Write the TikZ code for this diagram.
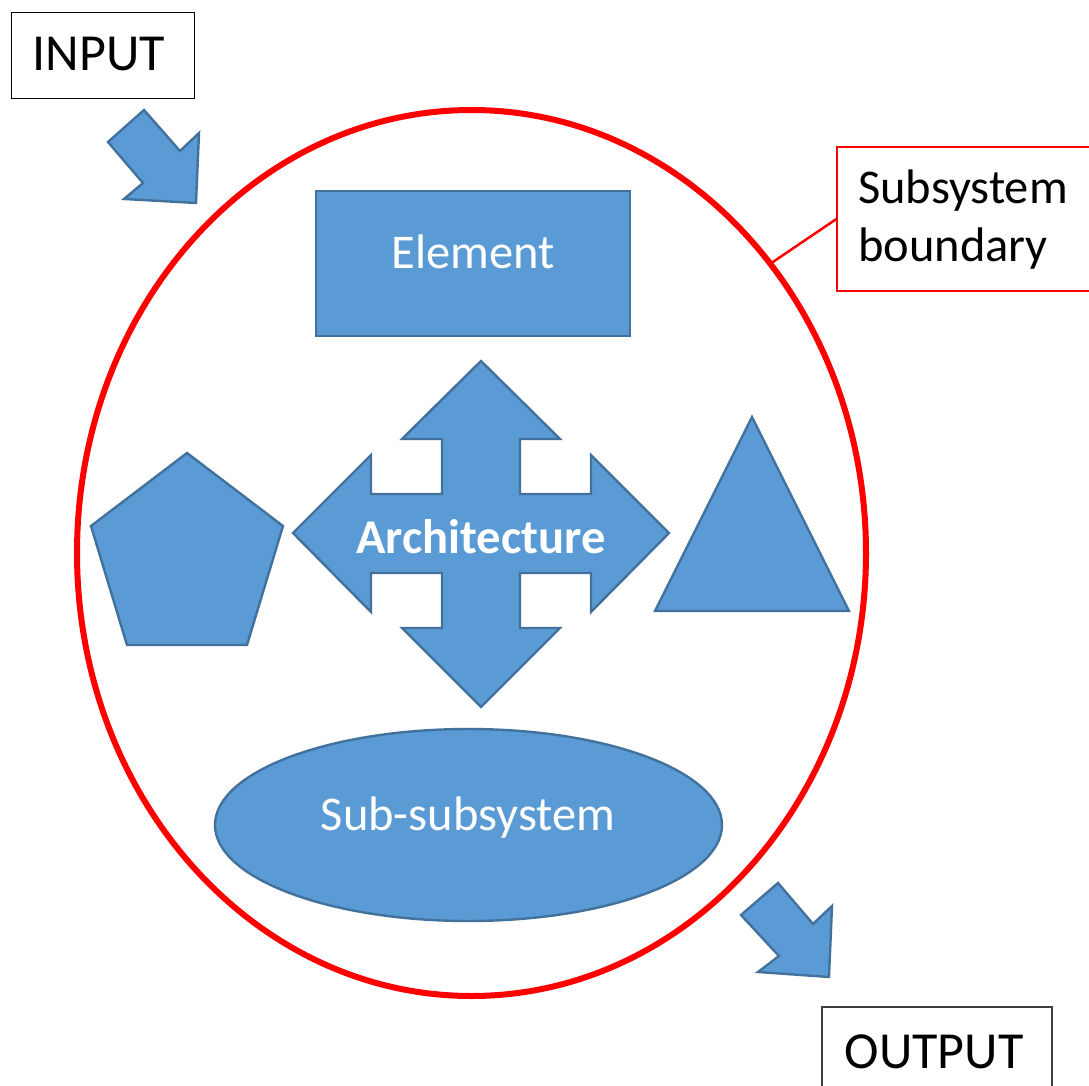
\documentclass[tikz,border=0pt]{standalone}
\usepackage{fontspec}
\setmainfont{Carlito}
\usetikzlibrary{shapes.geometric}
\definecolor{fillblue}{HTML}{5B9BD5}
\definecolor{edgeblue}{HTML}{41719C}
\begin{document}
\begin{tikzpicture}[x=1pt,y=-1pt,
  shapestyle/.style={fill=fillblue, draw=edgeblue, line width=2.4pt, line join=miter},
  lbl/.style={font=\fontsize{48.5}{58}\selectfont, inner sep=0pt, anchor=base},
  biglbl/.style={font=\fontsize{52}{62}\selectfont, inner sep=0pt, anchor=base},
  plainbox/.style={draw=black, line width=1pt, inner sep=0pt, fill=white},
  redline/.style={draw=red, line width=6pt}]
\useasboundingbox (0,0) rectangle (1089,1086);
\begin{scope}
\clip (0,0) rectangle (1089,1086);
% boundary ellipse
\node[redline, ellipse, minimum width=789pt, minimum height=886pt, inner sep=0pt] (boundary) at (471.5,553) {};
% callout
\node[draw=red, line width=1.2pt, minimum width=263pt, minimum height=144pt, inner sep=0pt] (callout) at (968.5,219) {};
\draw[red, line width=2.5pt] (callout.west) -- (boundary.44);
\node[lbl, anchor=base west] (subsys) at (858,204) {Subsystem};
\node[lbl, anchor=base west] (bound) at (858,261) {boundary};
% input / output boxes
\node[plainbox, minimum width=183pt, minimum height=86pt] (inbox) at (102.5,56) {};
\node[biglbl] (intext) at (99,71) {INPUT};
\node[plainbox, draw=black!75, line width=1.3pt, minimum width=230pt, minimum height=93pt] (outbox) at (937,1053.5) {};
\node[biglbl] (outtext) at (934,1068) {OUTPUT};
% input arrow
\draw[shapestyle] (108,142) -- (144,110) -- (180,151) -- (199,133) -- (196,203) -- (124,199) -- (143,183) -- cycle;
% output arrow
\draw[shapestyle] (741,915) -- (778,883) -- (813,924) -- (832,906) -- (829,977) -- (758,972) -- (779,956) -- cycle;
% element
\node[shapestyle, minimum width=314pt, minimum height=145pt, inner sep=0pt] (element) at (473,263.5) {};
\node[lbl, text=white] (elementtext) at (473,268) {Element};
% pentagon
\draw[shapestyle] (187,453) -- (283,526) -- (247,645) -- (127,645) -- (91,526) -- cycle;
% triangle
\draw[shapestyle] (752,417) -- (849,611) -- (655,611) -- cycle;
% cross arrow
\draw[shapestyle] (481,361) -- (560,439) -- (520,439) -- (520,494) -- (591,494) -- (591,455) -- (669,533) -- (591,612) -- (591,573) -- (520,573) -- (520,628) -- (560,628) -- (481,707) -- (402,628) -- (442,628) -- (442,573) -- (371,573) -- (371,612) -- (293,533) -- (371,455) -- (371,494) -- (442,494) -- (442,439) -- (402,439) -- cycle;
\node[lbl, text=white, font=\fontsize{48.5}{58}\selectfont\bfseries] (archtext) at (481,553) {Architecture};
% sub-subsystem
\node[shapestyle, ellipse, minimum width=507pt, minimum height=192pt, inner sep=0pt] (subsub) at (468.5,825) {};
\node[lbl, text=white] (subsubtext) at (468,830) {Sub-subsystem};
\end{scope}
\end{tikzpicture}
\end{document}
